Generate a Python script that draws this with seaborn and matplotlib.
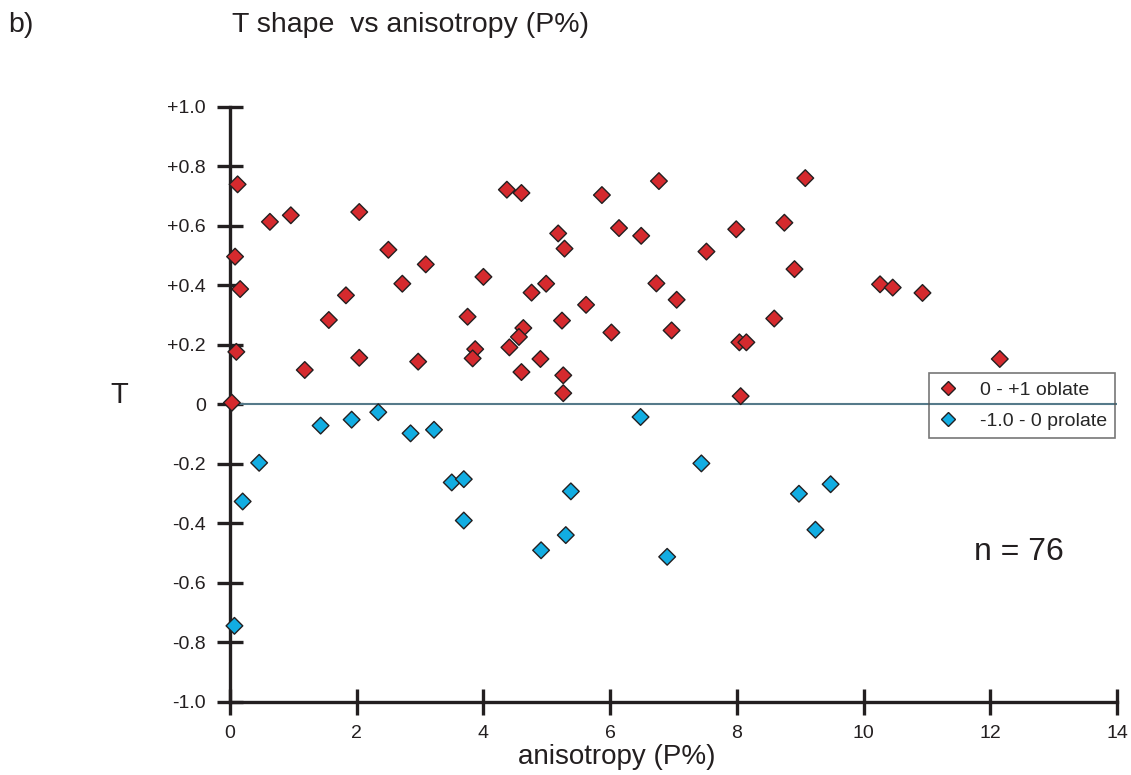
import numpy as np
import pandas as pd
import matplotlib
matplotlib.use("Agg")
import matplotlib.pyplot as plt
import seaborn as sns

# T shape vs anisotropy (P%)

# oblate fabrics (T between 0 and +1)
oblate_p = [0.12, 0.08, 0.16, 0.10, 0.03, 0.63, 0.96, 1.18, 1.56, 1.83,
            2.04, 2.04, 2.50, 2.72, 2.97, 3.09, 3.75, 4.00, 3.87, 3.83,
            4.37, 4.60, 4.76, 4.99, 4.63, 4.56, 4.41, 4.60, 4.90, 5.18,
            5.28, 5.24, 5.26, 5.26, 5.87, 6.77, 6.14, 6.49, 7.52, 7.99,
            8.75, 9.08, 8.91, 6.73, 7.05, 5.62, 6.02, 6.97, 8.59, 8.04,
            8.15, 8.06, 10.26, 10.46, 10.93, 12.15]
oblate_t = [0.739, 0.496, 0.387, 0.176, 0.005, 0.613, 0.635, 0.115, 0.283, 0.366,
            0.646, 0.156, 0.519, 0.405, 0.143, 0.470, 0.294, 0.428, 0.185, 0.154,
            0.721, 0.710, 0.375, 0.405, 0.256, 0.226, 0.191, 0.108, 0.152, 0.574,
            0.523, 0.281, 0.097, 0.037, 0.703, 0.750, 0.592, 0.566, 0.513, 0.588,
            0.610, 0.760, 0.454, 0.406, 0.351, 0.334, 0.241, 0.248, 0.288, 0.208,
            0.208, 0.027, 0.403, 0.392, 0.374, 0.152]

# prolate fabrics (T between -1 and 0)
prolate_p = [0.20, 0.46, 0.07, 1.43, 1.92, 2.34, 2.85, 3.22, 3.50, 3.69,
             3.69, 4.91, 5.30, 5.38, 6.48, 7.44, 6.90, 8.98, 9.48, 9.24]
prolate_t = [-0.327, -0.197, -0.745, -0.072, -0.052, -0.027, -0.098, -0.086, -0.263, -0.252,
             -0.391, -0.491, -0.440, -0.293, -0.043, -0.199, -0.513, -0.301, -0.269, -0.422]

labels = ["0 - +1 oblate", "-1.0 - 0 prolate"]
colors = ["#d52a2e", "#12ade2"]

x_ticks = [0, 2, 4, 6, 8, 10, 12, 14]
y_ticks = [1.0, 0.8, 0.6, 0.4, 0.2, 0.0, -0.2, -0.4, -0.6, -0.8, -1.0]
y_tick_labels = ["+1.0", "+0.8", "+0.6", "+0.4", "+0.2", "0",
                 "-0.2", "-0.4", "-0.6", "-0.8", "-1.0"]

df = pd.DataFrame({
    "P": oblate_p + prolate_p,
    "T": oblate_t + prolate_t,
    "group": [labels[0]] * len(oblate_p) + [labels[1]] * len(prolate_p),
})

sns.set_style("white")
plt.rcParams["font.family"] = ["Liberation Sans", "DejaVu Sans"]
ink = "#231f20"

fig = plt.figure(figsize=(11.31, 7.75), dpi=100)
ax = fig.add_axes([230 / 1131, 1 - 701.7 / 775, 887 / 1131, 595 / 775])

# zero line
ax.axhline(0, color="#557a8a", lw=1.5, zorder=1)

sns.scatterplot(data=df, x="P", y="T", hue="group", hue_order=labels,
                palette=dict(zip(labels, colors)), marker="D", s=72,
                edgecolor=ink, linewidth=1.0, clip_on=False, zorder=3, ax=ax)

ax.set_xlim(0, 14)
ax.set_ylim(-1, 1)
ax.set_xticks(x_ticks)
ax.set_xticklabels([str(t) for t in x_ticks])
ax.set_yticks(y_ticks)
ax.set_yticklabels(y_tick_labels)

for side in ["top", "right"]:
    ax.spines[side].set_visible(False)
for side in ["left", "bottom"]:
    ax.spines[side].set_linewidth(2.4)
    ax.spines[side].set_color(ink)

ax.tick_params(axis="both", direction="inout", length=19, width=2.4,
               color=ink, labelsize=14, labelcolor=ink,
               bottom=True, left=True)
ax.tick_params(axis="y", pad=8)
ax.tick_params(axis="x", pad=7)

ax.set_xlabel("anisotropy (P%)", fontsize=20, color=ink, va="center")
ax.xaxis.set_label_coords(0.4357, -0.093)
ax.set_ylabel("T", fontsize=21, color=ink, rotation=0, ha="center", va="center")
ax.yaxis.set_label_coords(-0.125, 0.515)

leg = ax.legend(loc="upper left", bbox_to_anchor=(0.788, 0.552),
                frameon=True, fancybox=False, edgecolor="#555555",
                facecolor="none", fontsize=14, handletextpad=1.05,
                borderpad=0.4, labelspacing=0.7, borderaxespad=0,
                markerscale=0.85, handlelength=1.2)
leg.get_frame().set_linewidth(1.2)

ax.text(0.8895, 0.2516, "n = 76", transform=ax.transAxes, fontsize=23,
        color=ink, ha="center", va="center")

fig.text(8 / 1131, 1 - 25 / 775, "b)", fontsize=20.5, color=ink, va="center")
fig.text(232 / 1131, 1 - 25 / 775, "T shape  vs anisotropy (P%)",
         fontsize=20.5, color=ink, va="center")

fig.savefig("out.png", dpi=100)
